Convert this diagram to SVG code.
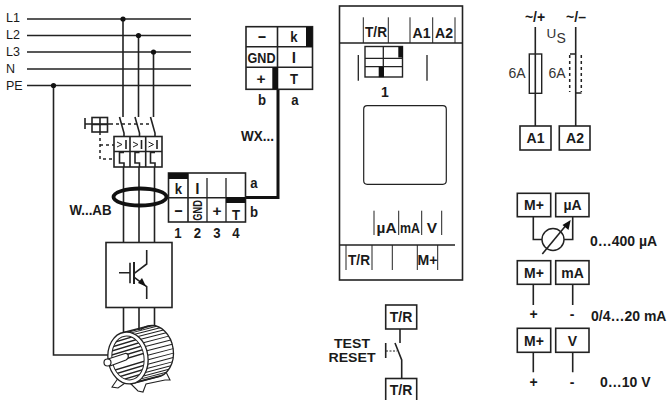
<svg xmlns="http://www.w3.org/2000/svg" width="668" height="400" viewBox="0 0 668 400">
<style>
text{font-family:"Liberation Sans",Arial,sans-serif;fill:#1a1a1a}
.r{font-size:12.5px}
.l{font-size:14px;text-anchor:middle;fill:#333}
.b{font-weight:bold;font-size:14px;text-anchor:middle}
.n{font-weight:bold;font-size:15.5px;text-anchor:middle}
.m{font-weight:bold;font-size:18px;text-anchor:middle}
.w{fill:none;stroke:#222;stroke-width:1.3}
.h{fill:none;stroke:#222;stroke-width:1.6}
.box{fill:#fff;stroke:#222;stroke-width:1.6}
.t{fill:none;stroke:#222;stroke-width:1}
.d{fill:none;stroke:#222;stroke-width:1.5;stroke-dasharray:3 3}
.k{fill:#111}
.thick{fill:none;stroke:#111;stroke-width:3}
</style>
<defs><clipPath id="face"><ellipse cx="128" cy="358" rx="16" ry="22" transform="rotate(-8 128 358)"/></clipPath></defs>

<g id="connectors">
<path class="h" d="M27 19H191M27 35.5H191M27 52H191M27 69H191M27 85.5H191"/>
<path class="h" d="M123 19V117M138.5 35.5V117M153.5 52V117M53.5 85.5V355H108"/>
<circle class="k" cx="123" cy="19" r="2.6"/><circle class="k" cx="138.5" cy="35.5" r="2.6"/><circle class="k" cx="153.5" cy="52" r="2.6"/><circle class="k" cx="53.5" cy="85.5" r="2.6"/>
<path class="h" d="M119.5 117L124 133V137M135 117L139.5 133V137M150.5 117L155 133V137"/>
<path class="d" d="M110 124H150M100 132V159H114M100 145H114"/>
<path class="h" d="M123.5 167V242M139 167V242M154.5 167V242M123.5 308V335M139 308V335M154.5 308V335"/>
<path class="thick" d="M278 89V197.5H245"/>
<path class="h" d="M535.3 27V54M535.3 93V126M575.7 27V126M570 54H575.7M575.7 93H581.5"/>
<path class="d" d="M569.7 55V92M581.3 55V92"/>
<path class="h" d="M533.3 217V239.5H542M572.7 217V239.5H564M533.3 284V305M572.7 284V305M533.3 352V372.3M572.7 352V372.3"/>
<path class="h" d="M400 329V343M395 343L401.7 360V378.5"/>
<path class="h" d="M385.7 343V358"/>
<path class="t" d="M386 351H397" stroke-dasharray="2 1.5"/>
</g>

<g id="labels-lines">
<text class="r" x="6" y="22">L1</text><text class="r" x="6" y="39">L2</text><text class="r" x="6" y="56">L3</text><text class="r" x="6" y="73">N</text><text class="r" x="6" y="90">PE</text>
</g>

<g id="isolator">
<path class="h" d="M85 118V129M85 124H110"/>
<rect class="h" x="92" y="117.5" width="15.5" height="14.5"/>
<path class="h" d="M100 117.5V132M92 124.5H107.5"/>
</g>

<g id="breaker">
<rect class="box" x="114" y="136.5" width="48" height="30.5"/>
<path class="h" d="M130 136.5V167M145.7 136.5V167M114 151.5H162"/>
<path class="h" d="M124 152.5H119.5V163H124V167M139.5 152.5H135V163H139.5V167M155 152.5H150.5V163H155V167"/>
<path class="t" d="M117 142L122 144.500L117 147M133 142L138 144.500L133 147M148.500 142L153.500 144.500L148.500 147"/>
<path class="h" d="M126 140V149M141.500 140V149M157 140V149"/>
</g>

<g id="current-transformer">
<ellipse cx="140" cy="197" rx="26.500" ry="8.500" fill="none" stroke="#111" stroke-width="3.800"/>
<text class="n" x="90.500" y="215" textLength="42" lengthAdjust="spacingAndGlyphs">W...AB</text>
</g>

<g id="terminal-block-1">
<rect class="box" x="168.500" y="173" width="77" height="49"/>
<path class="h" d="M168.500 197.700H245.500M188 173V222"/>
<path class="w" d="M207 178V222M226 178V222"/>
<rect class="k" x="168.500" y="173" width="19.500" height="6"/><rect class="k" x="226" y="197" width="19.500" height="6"/>
<text class="n" transform="translate(178.500 193.500) scale(.85 1)">k</text><text class="n" transform="translate(197.500 193.500) scale(1 1)">l</text>
<text class="m" transform="translate(178.500 216) scale(.8 1)">–</text><text class="n" x="217" y="216">+</text><text class="n" transform="translate(236 219.500) scale(.85 1)">T</text>
<text class="b" transform="translate(201.500 220.700) rotate(-90)" style="font-size:13px;text-anchor:start" textLength="20.500" lengthAdjust="spacingAndGlyphs">GND</text>
<text class="n" transform="translate(178 237.500) scale(.85 1)">1</text><text class="n" transform="translate(197.500 237.500) scale(.85 1)">2</text><text class="n" transform="translate(217 237.500) scale(.85 1)">3</text><text class="n" transform="translate(236 237.500) scale(.85 1)">4</text>
<text class="n" transform="translate(254 188) scale(.85 1)">a</text><text class="n" transform="translate(254 217) scale(.85 1)">b</text>
</g>

<g id="terminal-block-2">
<rect class="box" x="246" y="26.700" width="66.500" height="62.600"/>
<path class="h" d="M246 46.700H312.500M246 67.300H312.500M277.500 26.700V89.300"/>
<rect class="k" x="306" y="27" width="6.500" height="20"/><rect class="k" x="272.300" y="67.300" width="5.700" height="22"/>
<text class="m" transform="translate(262 41.700) scale(.8 1)">–</text><text class="n" transform="translate(294 41.500) scale(.85 1)">k</text>
<text class="n" x="261.500" y="62.500" textLength="28" lengthAdjust="spacingAndGlyphs">GND</text><text class="n" x="294" y="62.500">l</text>
<text class="n" x="261" y="84">+</text><text class="n" transform="translate(294 84) scale(.85 1)">T</text>
<text class="n" transform="translate(262 105) scale(.85 1)">b</text><text class="n" transform="translate(295 105) scale(.85 1)">a</text>
<text class="n" x="257.500" y="141" textLength="33" lengthAdjust="spacingAndGlyphs">WX...</text>
</g>

<g id="inverter">
<rect class="box" x="106" y="242.500" width="66" height="65"/>
<path class="h" d="M119 272.700H130M130 262.700V283.300"/>
<path fill="none" stroke="#222" stroke-width="2" d="M134 262V284"/>
<path class="h" d="M134.300 273.300L146.700 264V250M134.300 277.300L146.700 286.700V299"/>
<path class="k" d="M146 286.500L138 283L142 278Z"/>
</g>

<g id="motor">
<path d="M121 374L112 387L118 388L128 381L138 391L143 392L146 384L165 380L170 380L165 370Z" fill="#fff" stroke="#222" stroke-width="1.100"/>
<g transform="rotate(-8 128 358)">
<ellipse cx="154" cy="355" rx="20" ry="26" fill="#fff" stroke="#222" stroke-width="1.300"/>
<path d="M128 332H154V384H128Z" fill="#fff"/>
<path class="t" d="M131.500 332.400l26-3M134.800 333.600l26-3M138 335.500l26-3M140.900 338.100l26-3M143.300 341.300l26-3M145.300 345l26-3M146.800 349.100l26-3M147.700 353.500l26-3M148 358l26-3M147.700 362.500l26-3M146.800 366.900l26-3M145.300 371l26-3M143.300 374.700l26-3M140.900 377.900l26-3M138 380.500l26-3M134.800 382.400l26-3M131.500 383.600l26-3"/>
<path class="w" d="M128 332l26-3M128 384l26-3"/>
<ellipse cx="128" cy="358" rx="20" ry="26" fill="#fff" stroke="#222" stroke-width="1.300"/>
<ellipse cx="128" cy="358" rx="16" ry="22" fill="#fff" stroke="#222" stroke-width="1"/>
</g>
<g clip-path="url(#face)">
<path stroke="#222" stroke-width="1.300" fill="none" d="M105 345l50-15M105 349l50-15M105 353l50-15M105 357l50-15M105 361l50-15M105 365l50-15M105 373l50-15M105 377l50-15M105 381l50-15M105 385l50-15M105 389l50-15M105 393l50-15"/>
</g>
<path d="M108 359L125 353.500C129 353 129.500 358 126 360L110 366Z" fill="#fff" stroke="#222" stroke-width="1.200"/>
<circle cx="107.500" cy="362.500" r="3.500" fill="#fff" stroke="#222" stroke-width="1.200"/>
</g>

<g id="device">
<rect x="339.500" y="6" width="123" height="274" fill="none" stroke="#222" stroke-width="1.600"/>
<path class="w" d="M339.500 43H462.500M339.500 245H455"/>
<path class="t" d="M363.300 17.300V43M388.300 17.300V43M410 17.300V43M432.700 17.300V43M455 17.300V43"/>
<text class="n" x="376" y="36.700" textLength="22" lengthAdjust="spacingAndGlyphs">T/R</text><text class="n" x="421.500" y="38" textLength="18" lengthAdjust="spacingAndGlyphs">A1</text><text class="n" x="444" y="38" textLength="18" lengthAdjust="spacingAndGlyphs">A2</text>
<rect x="365" y="46.500" width="37.500" height="30.500" fill="#fff" stroke="#222" stroke-width="1.400"/>
<path class="w" d="M365 58.300H402.500M365 66.700H402.500M383.300 46.500V77"/>
<rect class="k" x="398.300" y="46.500" width="4.700" height="11"/><rect class="k" x="378.700" y="66.700" width="5.300" height="10.500"/>
<path class="w" d="M358.300 55V80.700M427 55V80.700"/>
<text class="b" x="385" y="97">1</text>
<rect x="363.700" y="105.700" width="82.600" height="78.600" rx="3.500" fill="none" stroke="#222" stroke-width="1.200"/>
<path class="t" d="M374 210.700V235M398.700 210.700V235M421.700 210.700V235M441.700 210.700V235"/>
<text class="n" x="386.500" y="233" textLength="20" lengthAdjust="spacingAndGlyphs">µA</text><text class="n" x="410" y="233" textLength="20" lengthAdjust="spacingAndGlyphs">mA</text><text class="n" x="432" y="233">V</text>
<path class="t" d="M346 245V270M372 245V270M392.300 245V270M417.300 245V270M437.700 245V270"/>
<text class="n" x="359" y="265" textLength="22" lengthAdjust="spacingAndGlyphs">T/R</text><text class="n" x="427.500" y="265" textLength="20" lengthAdjust="spacingAndGlyphs">M+</text>
</g>

<g id="supply">
<text class="b" x="535" y="22">~/+</text><text class="b" x="576" y="22">~/–</text>
<text x="546.500" y="38" style="font-size:13.500px;fill:#333">U</text><text x="556.500" y="43" style="font-size:14px;fill:#333">S</text>
<rect x="529.300" y="54" width="12.400" height="39.300" fill="#fff" stroke="#222" stroke-width="1.400"/>
<path class="h" d="M535.300 54V93"/>
<text class="l" x="517" y="78">6A</text><text class="l" x="557" y="78">6A</text>
</g>
<g id="A1"><rect class="box" x="520" y="126" width="31" height="24"/><text class="b" x="535.500" y="143">A1</text></g>
<g id="A2"><rect class="box" x="559.300" y="126" width="30.700" height="24"/><text class="b" x="575" y="143">A2</text></g>

<g id="out-uA">
<rect class="box" x="517.300" y="193.300" width="33.400" height="23.400"/><text class="b" x="534" y="210">M+</text>
<rect class="box" x="555.700" y="193.300" width="33.300" height="23.400"/><text class="b" x="572.500" y="210">µA</text>
<circle cx="553" cy="239.500" r="11" fill="#fff" stroke="#222" stroke-width="1.400"/>
<path class="h" d="M542.300 254L567.500 223.500"/><path class="k" d="M570.700 220L568.500 230L562.500 225Z"/>
<text class="b" x="590" y="246" style="text-anchor:start">0…400 µA</text>
</g>
<g id="out-mA">
<rect class="box" x="517.300" y="260.700" width="33.400" height="23.600"/><text class="b" x="534" y="277.500">M+</text>
<rect class="box" x="555.700" y="260.700" width="33.300" height="23.600"/><text class="b" x="572.500" y="277.500">mA</text>
<text class="b" x="533.500" y="319">+</text><text class="b" x="572" y="319">-</text>
<text class="b" x="591" y="321" style="text-anchor:start">0/4…20 mA</text>
</g>
<g id="out-V">
<rect class="box" x="517.300" y="328.300" width="33.400" height="24"/><text class="b" x="534" y="345.500">M+</text>
<rect class="box" x="555.700" y="328.300" width="33.300" height="24"/><text class="b" x="572.500" y="345.500">V</text>
<text class="b" x="533.500" y="387">+</text><text class="b" x="572" y="387">-</text>
<text class="b" x="600" y="387" style="text-anchor:start">0…10 V</text>
</g>

<g id="test-reset">
<rect class="box" x="385.700" y="305" width="31" height="24"/><text class="b" x="401" y="322">T/R</text>
<rect class="box" x="385.700" y="378.500" width="31" height="22.500"/><text class="b" x="401" y="395">T/R</text>
<text class="b" x="352" y="347.500" style="font-size:13px" textLength="36" lengthAdjust="spacingAndGlyphs">TEST</text><text class="b" x="352" y="361.700" style="font-size:13px" textLength="47" lengthAdjust="spacingAndGlyphs">RESET</text>
</g>
</svg>
